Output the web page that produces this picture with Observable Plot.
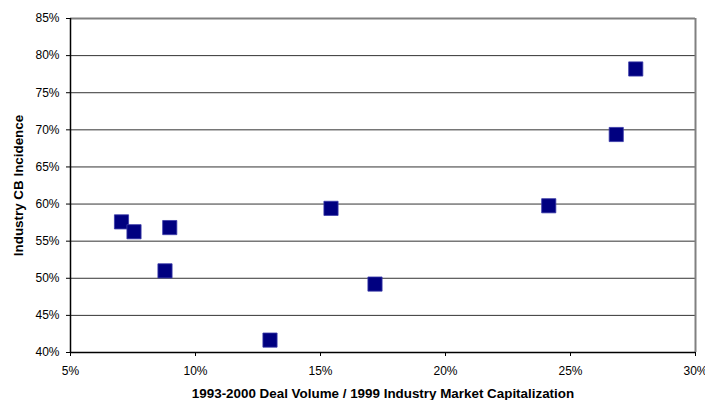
<!DOCTYPE html>
<html>
<head>
<meta charset="utf-8">
<script src="https://cdn.jsdelivr.net/npm/d3@7"></script>
<script src="https://cdn.jsdelivr.net/npm/@observablehq/plot@0.6"></script>
<style>
  html, body { margin: 0; padding: 0; background: #fff; }
  svg { display: block; }
</style>
</head>
<body>
<div id="chart"></div>
<script>
const dealVolumePct = [7.04, 7.54, 8.97, 8.78, 12.98, 15.42, 17.18, 24.13, 26.83, 27.61];
const cbIncidencePct = [57.6, 56.27, 56.83, 51.0, 41.67, 59.42, 49.22, 59.77, 69.37, 78.2];
const xTicks = [5, 10, 15, 20, 25, 30];
const yTicks = [40, 45, 50, 55, 60, 65, 70, 75, 80, 85];
const xTitle = "1993-2000 Deal Volume / 1999 Industry Market Capitalization";
const yTitle = "Industry CB Incidence";

const points = dealVolumePct.map((x, i) => ({x, y: cbIncidencePct[i]}));
const innerGrid = yTicks.filter(t => t > 40 && t < 85);

const chart = Plot.plot({
  width: 705,
  height: 400,
  marginLeft: 70,
  marginRight: 10,
  marginTop: 18,
  marginBottom: 48,
  style: {fontFamily: "Arial, 'Liberation Sans', sans-serif", fontSize: "12px", color: "#000", background: "#fff"},
  x: {domain: [5, 30], ticks: xTicks, tickFormat: d => d + "%"},
  y: {domain: [40, 85], ticks: yTicks, tickFormat: d => d + "%"},
  marks: [
    Plot.ruleY(innerGrid, {stroke: "#333", strokeWidth: 1}),
    Plot.ruleY([85], {stroke: "#808080", strokeWidth: 2}),
    Plot.ruleX([30], {stroke: "#808080", strokeWidth: 2}),
    Plot.axisX({ticks: xTicks, tickFormat: d => d + "%", tickSize: 4, tickPadding: 10, label: null, fontSize: 12}),
    Plot.axisY({ticks: yTicks, tickFormat: d => d + "%", tickSize: 4, tickPadding: 7, label: null, fontSize: 12}),
    Plot.ruleY([40], {stroke: "#000", strokeWidth: 1.5}),
    Plot.ruleX([5], {stroke: "#000", strokeWidth: 1.5}),
    Plot.dot(points, {x: "x", y: "y", symbol: "square", r: 8, fill: "#000080", stroke: "#3a3aa8", strokeWidth: 0.8}),
    Plot.text([xTitle], {frameAnchor: "bottom", dy: 45, fontWeight: "bold", fontSize: 13.4, fill: "#000"}),
    Plot.text([yTitle], {x: 5, y: 62.5, dx: -52, rotate: -90, fontWeight: "bold", fontSize: 13.4, fill: "#000"})
  ]
});
document.getElementById("chart").appendChild(chart);
</script>
</body>
</html>
